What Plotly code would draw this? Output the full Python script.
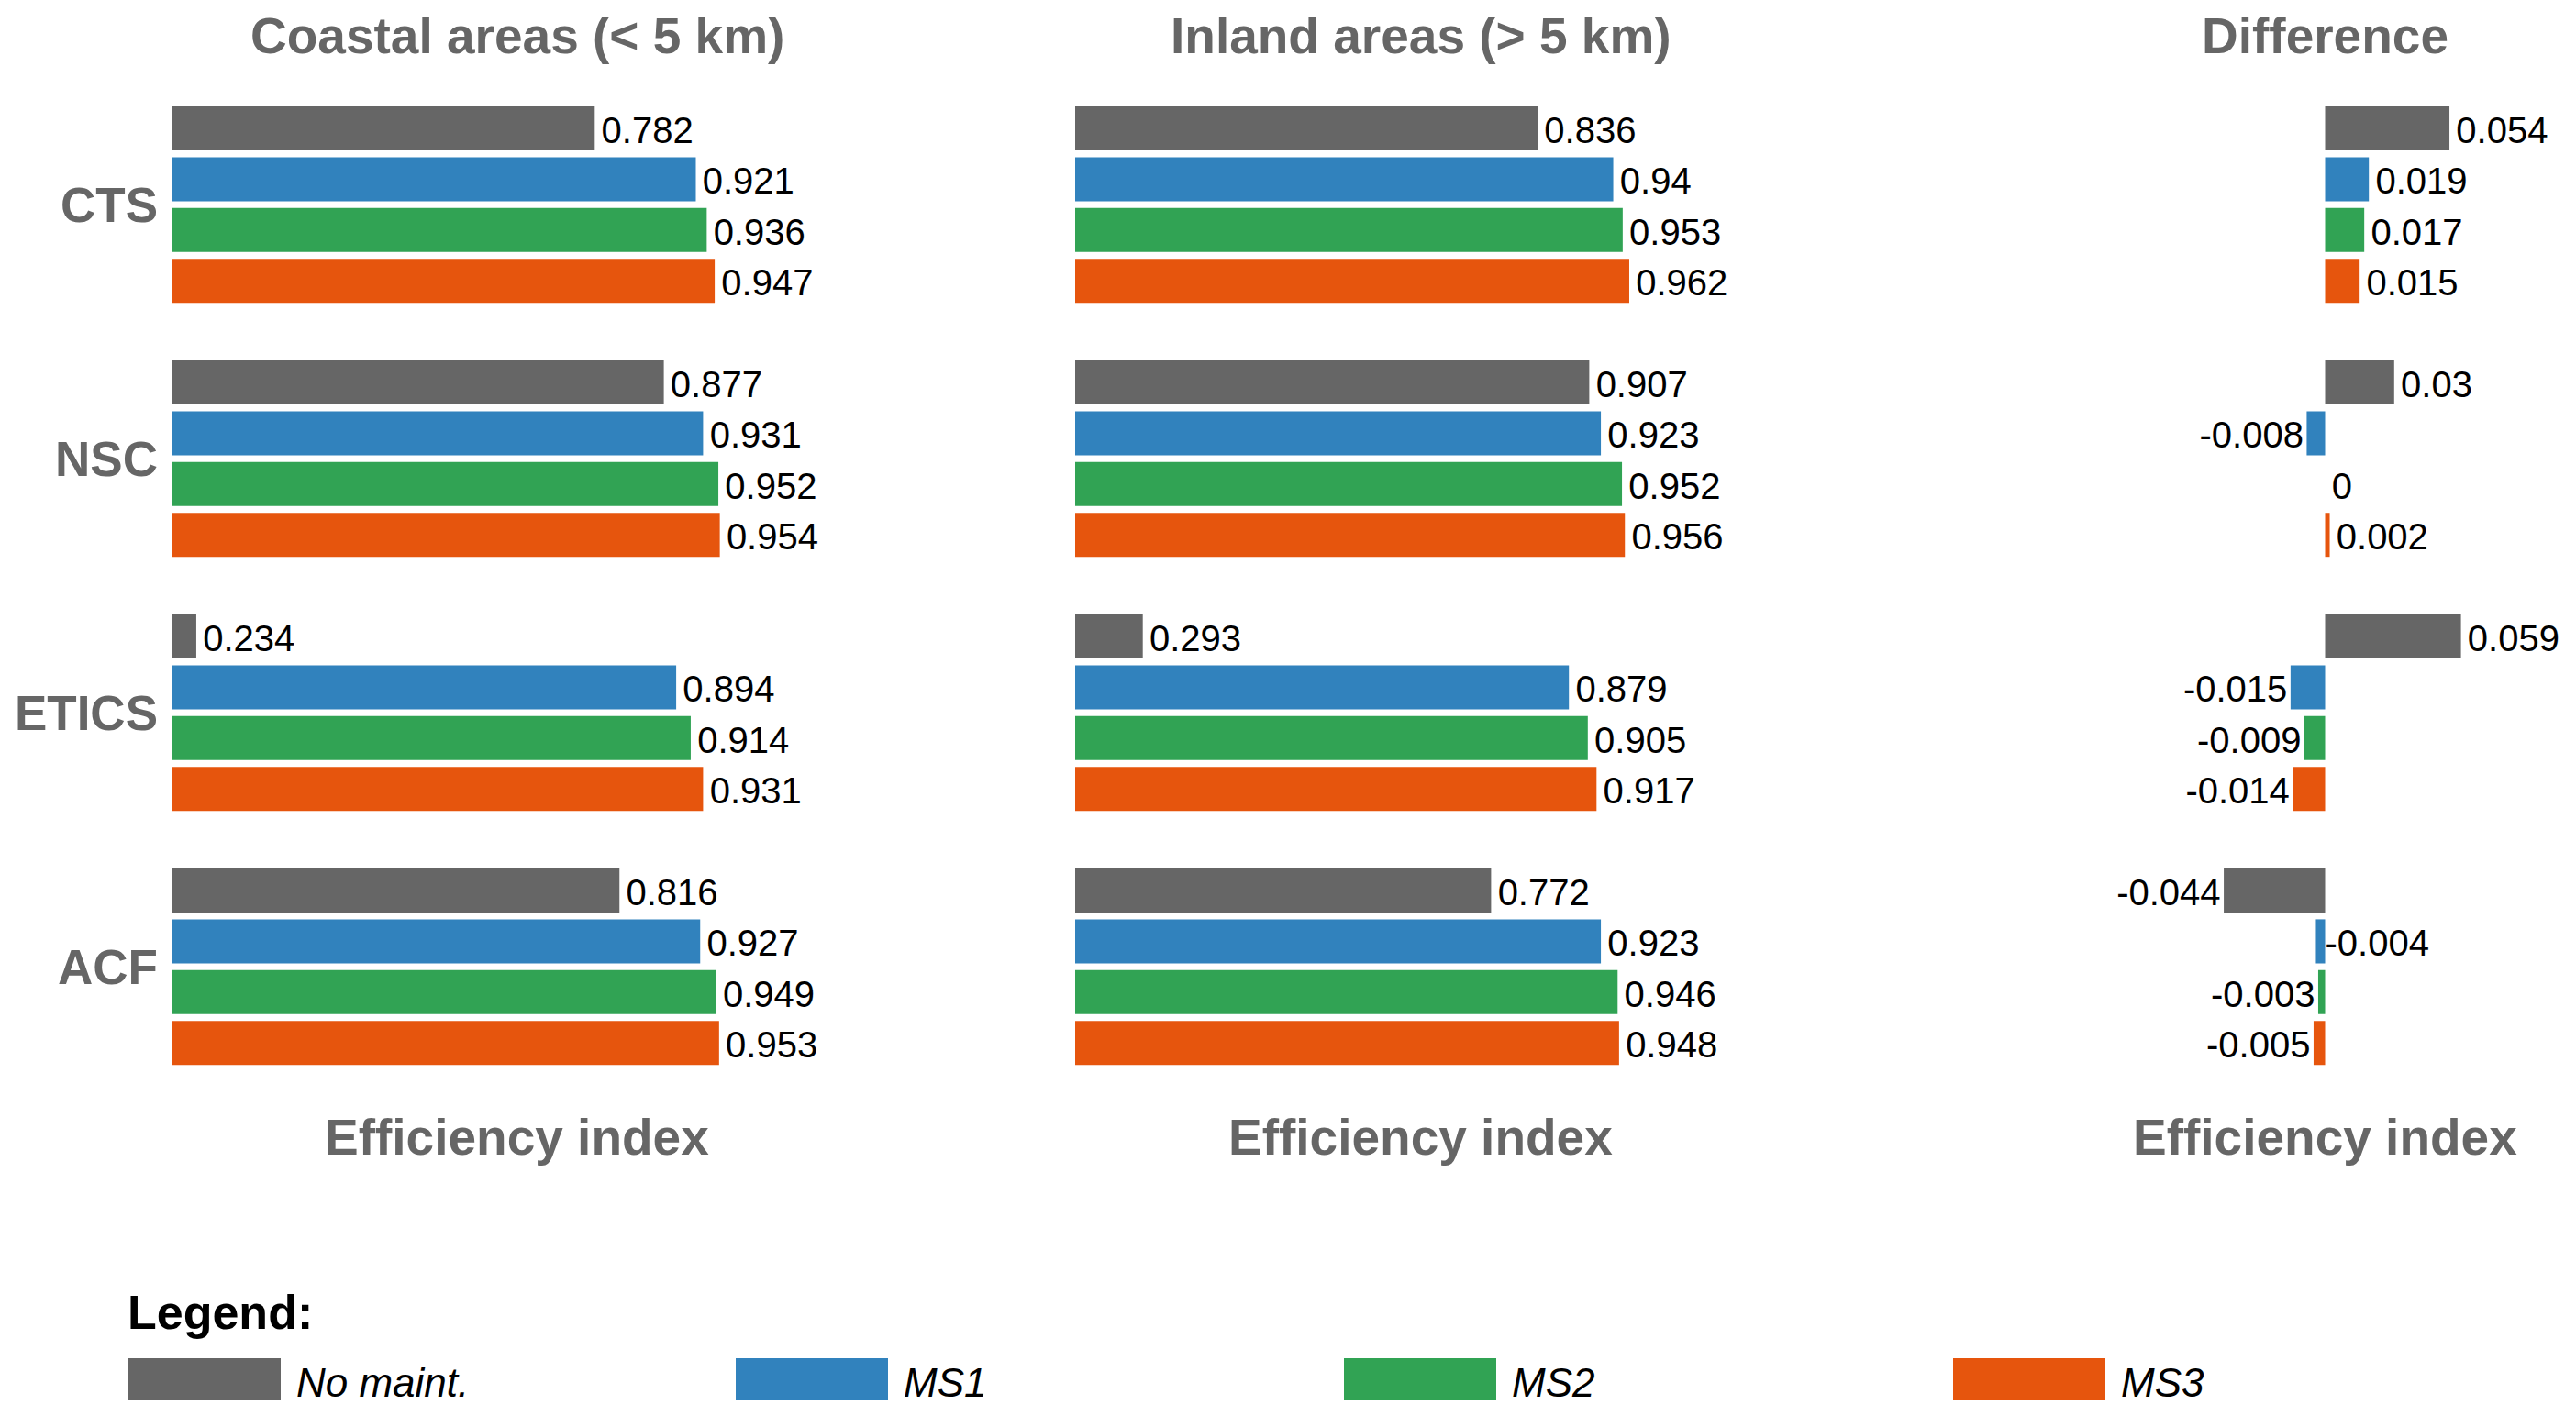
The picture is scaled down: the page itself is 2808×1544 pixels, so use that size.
import plotly.graph_objects as go

# ---------------- data ----------------
categories = ["CTS", "NSC", "ETICS", "ACF"]
series_names = ["No maint.", "MS1", "MS2", "MS3"]

coastal_no_maint = [0.782, 0.877, 0.234, 0.816]
coastal_ms1 = [0.921, 0.931, 0.894, 0.927]
coastal_ms2 = [0.936, 0.952, 0.914, 0.949]
coastal_ms3 = [0.947, 0.954, 0.931, 0.953]

inland_no_maint = [0.836, 0.907, 0.293, 0.772]
inland_ms1 = [0.94, 0.923, 0.879, 0.923]
inland_ms2 = [0.953, 0.952, 0.905, 0.946]
inland_ms3 = [0.962, 0.956, 0.917, 0.948]

diff_no_maint = [0.054, 0.03, 0.059, -0.044]
diff_ms1 = [0.019, -0.008, -0.015, -0.004]
diff_ms2 = [0.017, 0, -0.009, -0.003]
diff_ms3 = [0.015, 0.002, -0.014, -0.005]

panel_titles = ["Coastal areas (< 5 km)", "Inland areas (> 5 km)", "Difference"]
axis_title = "Efficiency index"
legend_title = "Legend:"

# ---------------- style ----------------
WIN_W, WIN_H = 2808, 1544
PAGE_MARGIN = 8  # default body margin of the html page
W, H = WIN_W - 2 * PAGE_MARGIN, WIN_H - 2 * PAGE_MARGIN
FONT = "Liberation Sans, Arial, Helvetica, sans-serif"
GREY_TEXT = "#666666"
colors = ["#666666", "#3182bd", "#31a354", "#e6550d"]
LABEL_DROP = 6  # value labels sit slightly below the bar centre

# labels placed on the other side of the zero line than their sign suggests
label_side_override = {(3, 1): "right"}  # (category index, series index)


def fx(p):
    return (p - PAGE_MARGIN) / W


def fy(p):
    return 1 - (p - PAGE_MARGIN) / H


panels = [
    [coastal_no_maint, coastal_ms1, coastal_ms2, coastal_ms3],
    [inland_no_maint, inland_ms1, inland_ms2, inland_ms3],
    [diff_no_maint, diff_ms1, diff_ms2, diff_ms3],
]
visible_right = PAGE_MARGIN + W
x_domains_px = [(187, 940), (1172, 1925), (2158, visible_right)]
x_ranges = [[0.2, 1.15], [0.2, 1.15],
            [-0.15, -0.15 + 0.3 * (visible_right - 2158) / 753]]
plot_top, plot_bottom = 84.6, 1192.6
y_domain = [fy(plot_bottom), fy(plot_top)]
y_domain_labels = [fy(plot_bottom + LABEL_DROP), fy(plot_top + LABEL_DROP)]

fig = go.Figure()

for p, panel in enumerate(panels):
    xa = "x" if p == 0 else f"x{p + 1}"
    ya = "y" if p == 0 else f"y{p + 1}"
    ya_lab = f"y{p + 4}"
    for s, vals in enumerate(panel):
        fig.add_trace(go.Bar(
            x=vals, y=categories, orientation="h",
            name=series_names[s], marker=dict(color=colors[s], line=dict(width=0)),
            offsetgroup=str(s), xaxis=xa, yaxis=ya, showlegend=False,
            hoverinfo="skip",
        ))
    for s, vals in enumerate(panel):
        anchors, positions, sizes, texts = [], [], [], []
        for c, v in enumerate(vals):
            side = label_side_override.get((c, s), "right" if v >= 0 else "left")
            if side == "right":
                anchors.append(max(v, 0))
                positions.append("middle right")
                sizes.append(0 if v < 0 else 10)
            else:
                anchors.append(min(v, 0))
                positions.append("middle left")
                sizes.append(4)
            texts.append(f"{v:g}")
        fig.add_trace(go.Scatter(
            x=anchors, y=categories, mode="markers+text", orientation="h",
            text=texts, textposition=positions,
            textfont=dict(family=FONT, size=40, color="black"),
            marker=dict(size=sizes, color="rgba(0,0,0,0)", opacity=0,
                        line=dict(width=0, color="rgba(0,0,0,0)")),
            offsetgroup=str(s), xaxis=xa, yaxis=ya_lab, showlegend=False,
            cliponaxis=False, hoverinfo="skip",
        ))

layout_axes = {}
for p in range(3):
    xkey = "xaxis" if p == 0 else f"xaxis{p + 1}"
    ykey = "yaxis" if p == 0 else f"yaxis{p + 1}"
    ya = "y" if p == 0 else f"y{p + 1}"
    xa = "x" if p == 0 else f"x{p + 1}"
    d0, d1 = x_domains_px[p]
    layout_axes[xkey] = dict(
        domain=[fx(d0), min(fx(d1), 1.0)], range=x_ranges[p], anchor=ya,
        showgrid=False, zeroline=False, showline=False,
        showticklabels=False, ticks="", fixedrange=True,
    )
    layout_axes[ykey] = dict(
        domain=y_domain, anchor=xa, type="category",
        categoryorder="array", categoryarray=categories,
        range=[3.5, -0.5], showgrid=False, zeroline=False, showline=False,
        ticks="", showticklabels=(p == 0), ticklabelstandoff=14,
        tickfont=dict(family=FONT, size=53, color=GREY_TEXT, weight="bold"),
        fixedrange=True,
    )
    layout_axes[f"yaxis{p + 4}"] = dict(
        domain=y_domain_labels, anchor=xa, type="category",
        categoryorder="array", categoryarray=categories,
        range=[3.5, -0.5], showgrid=False, zeroline=False, showline=False,
        ticks="", showticklabels=False, fixedrange=True,
    )

annotations = []
for p in range(3):
    if p < 2:
        xref = "x domain" if p == 0 else f"x{p + 1} domain"
        xpos = 0.5
    else:
        xref = "x3"
        xpos = 0
    annotations.append(dict(
        text=panel_titles[p], xref=xref, x=xpos, yref="paper", y=fy(39),
        xanchor="center", yanchor="middle", showarrow=False,
        font=dict(family=FONT, size=55, color=GREY_TEXT, weight="bold"),
    ))
    annotations.append(dict(
        text=axis_title, xref=xref, x=xpos, yref="paper", y=fy(1240),
        xanchor="center", yanchor="middle", showarrow=False,
        font=dict(family=FONT, size=55, color=GREY_TEXT, weight="bold"),
    ))

annotations.append(dict(
    text=legend_title, xref="paper", x=fx(137), yref="paper", y=fy(1431),
    xanchor="left", yanchor="middle", showarrow=False,
    font=dict(family=FONT, size=52, color="black", weight="bold"),
))

shapes = []
swatch_left = [140, 802, 1465, 2129]
for s, name in enumerate(series_names):
    x0 = swatch_left[s]
    shapes.append(dict(
        type="rect", xref="paper", yref="paper",
        x0=fx(x0), x1=fx(x0 + 166), y0=fy(1527), y1=fy(1481),
        fillcolor=colors[s], line=dict(width=0),
    ))
    annotations.append(dict(
        text=name, xref="paper", x=fx(x0 + 181), yref="paper", y=fy(1507),
        xanchor="left", yanchor="middle", showarrow=False,
        font=dict(family=FONT, size=44, color="black", style="italic"),
    ))

fig.update_layout(
    width=W, height=H,
    margin=dict(l=0, r=0, t=0, b=0),
    paper_bgcolor="white", plot_bgcolor="rgba(0,0,0,0)",
    barmode="group", bargap=0.2, bargroupgap=0.134,
    scattermode="group", scattergap=0.2,
    annotations=annotations, shapes=shapes,
    font=dict(family=FONT),
    showlegend=False,
    **layout_axes,
)

fig.write_html("out.html")
